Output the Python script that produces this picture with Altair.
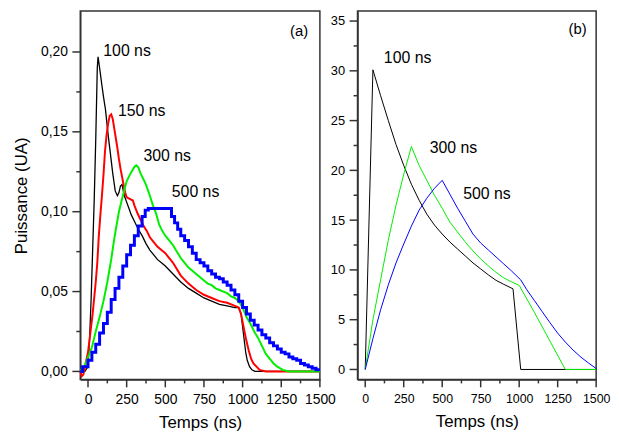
import altair as alt
import pandas as pd

FONT = "Liberation Sans"

# ---------------- Panel (a): measured pulses ----------------
a_black = [(-50, 0), (-20, 0), (0, 0.003), (10, 0.02), (20, 0.045), (30, 0.076), (40, 0.107),
           (50, 0.145), (60, 0.19), (65, 0.197), (75, 0.19), (90, 0.179), (100, 0.172),
           (113, 0.164), (128, 0.15), (144, 0.137), (160, 0.124), (176, 0.113), (190, 0.11),
           (200, 0.112), (210, 0.116), (220, 0.117), (235, 0.11), (250, 0.106), (265, 0.102),
           (280, 0.098), (300, 0.094), (325, 0.089), (350, 0.085), (375, 0.08), (400, 0.076),
           (425, 0.073), (450, 0.07), (475, 0.068), (500, 0.066), (550, 0.061), (600, 0.056),
           (650, 0.052), (700, 0.049), (750, 0.046), (800, 0.044), (850, 0.042), (900, 0.041),
           (950, 0.040), (975, 0.040), (990, 0.036), (1000, 0.028), (1010, 0.02), (1020, 0.012),
           (1030, 0.007), (1045, 0.003), (1060, 0.001), (1080, 0), (1500, 0)]

a_red = [(-50, 0), (-40, -0.003), (-30, -0.002), (-20, 0.003), (0, 0.012), (10, 0.02), (20, 0.028),
         (30, 0.036), (40, 0.046), (50, 0.056), (60, 0.068), (70, 0.085), (80, 0.098), (90, 0.11),
         (100, 0.123), (110, 0.138), (120, 0.148), (130, 0.155), (140, 0.16), (150, 0.161),
         (160, 0.158), (170, 0.152), (180, 0.146), (190, 0.14), (200, 0.133), (210, 0.127),
         (220, 0.122), (230, 0.117), (240, 0.112), (250, 0.109), (270, 0.108), (290, 0.107),
         (300, 0.104), (320, 0.099), (340, 0.095), (360, 0.091), (380, 0.088), (400, 0.084),
         (425, 0.081), (450, 0.078), (475, 0.076), (500, 0.074), (550, 0.068), (600, 0.06),
         (650, 0.055), (700, 0.051), (750, 0.048), (800, 0.046), (850, 0.044), (900, 0.043),
         (950, 0.041), (975, 0.040), (990, 0.036), (1000, 0.031), (1010, 0.026), (1025, 0.019),
         (1040, 0.013), (1055, 0.008), (1070, 0.005), (1090, 0.003), (1110, 0.001), (1150, 0),
         (1500, 0)]

a_green = [(-50, 0), (-20, 0.004), (0, 0.009), (25, 0.015), (50, 0.025), (75, 0.034), (100, 0.044),
           (125, 0.056), (150, 0.070), (165, 0.080), (180, 0.089), (200, 0.100), (225, 0.110),
           (250, 0.119), (275, 0.124), (300, 0.128), (312, 0.129), (325, 0.128), (340, 0.124),
           (355, 0.121), (375, 0.117), (400, 0.110), (420, 0.104), (440, 0.099), (460, 0.092),
           (480, 0.088), (500, 0.085), (525, 0.082), (550, 0.079), (575, 0.075), (600, 0.071),
           (625, 0.068), (650, 0.065), (675, 0.063), (700, 0.061), (725, 0.059), (750, 0.057),
           (775, 0.055), (800, 0.054), (825, 0.052), (850, 0.051), (875, 0.050), (900, 0.049),
           (925, 0.047), (950, 0.046), (975, 0.044), (1000, 0.040), (1025, 0.034), (1050, 0.030),
           (1075, 0.025), (1100, 0.021), (1125, 0.016), (1150, 0.011), (1175, 0.008),
           (1200, 0.005), (1225, 0.003), (1260, 0.001), (1300, 0), (1500, 0)]

a_blue = [(-50, 0), (-35, 0.003), (0, 0.007), (25, 0.012), (50, 0.017), (75, 0.024), (100, 0.030),
          (125, 0.037), (150, 0.045), (175, 0.052), (200, 0.059), (225, 0.066), (250, 0.073),
          (275, 0.079), (300, 0.085), (325, 0.091), (350, 0.097), (370, 0.101), (390, 0.102),
          (450, 0.102), (520, 0.102), (540, 0.097), (560, 0.093), (580, 0.089), (600, 0.085),
          (625, 0.082), (650, 0.078), (675, 0.074), (700, 0.070), (725, 0.068), (750, 0.066),
          (775, 0.063), (800, 0.061), (825, 0.059), (850, 0.058), (875, 0.056), (900, 0.054),
          (925, 0.051), (950, 0.048), (975, 0.044), (1000, 0.040), (1025, 0.036), (1050, 0.032),
          (1075, 0.029), (1100, 0.026), (1125, 0.023), (1150, 0.021), (1175, 0.018),
          (1200, 0.016), (1225, 0.014), (1250, 0.012), (1275, 0.011), (1300, 0.009),
          (1325, 0.008), (1350, 0.007), (1375, 0.005), (1400, 0.004), (1425, 0.003),
          (1450, 0.002), (1475, 0.001), (1500, 0.001)]

a_labels = ["100 ns", "150 ns", "300 ns", "500 ns"]
a_label_x = [99, 194, 359, 542]
a_label_y = [0.2007, 0.163, 0.135, 0.112]

# ---------------- Panel (b): simulated pulses ----------------
b_black_t = [0, 50, 100, 150, 200, 250, 300, 350, 400, 450, 500, 550, 600, 650, 700, 750,
             800, 850, 900, 960, 1010, 1500]
b_black_v = [0, 30.1, 27.5, 25.0, 22.6, 20.5, 18.6, 17.0, 15.6, 14.5, 13.6, 12.8, 12.1, 11.4,
             10.7, 10.1, 9.5, 8.95, 8.55, 8.1, 0, 0]

b_green_t = [0, 50, 100, 150, 200, 250, 300, 350, 400, 450, 500, 550, 600, 650, 700, 750, 800,
             850, 900, 950, 1000, 1100, 1200, 1300, 1500]
b_green_v = [0, 5.0, 9.0, 13.0, 16.5, 19.6, 22.4, 20.5, 19.0, 17.5, 16.2, 14.8, 13.8, 12.8,
             11.9, 11.1, 10.4, 9.75, 9.2, 8.8, 8.45, 5.7, 2.85, 0, 0]

b_blue_t = [0, 50, 100, 150, 200, 250, 300, 350, 400, 450, 500, 550, 600, 650, 700, 750, 800,
            850, 900, 950, 1010, 1050, 1100, 1150, 1200, 1250, 1300, 1350, 1400, 1450, 1500]
b_blue_v = [0, 3.1, 6.0, 8.5, 10.7, 12.6, 14.4, 16.0, 17.2, 18.2, 19.0, 17.6, 16.2, 14.9, 13.6,
            12.7, 12.0, 11.3, 10.6, 9.9, 9.0, 8.0, 6.9, 5.8, 4.7, 3.65, 2.75, 1.95, 1.25, 0.65, 0.1]

b_labels = ["100 ns", "300 ns", "500 ns"]
b_label_x = [121, 419, 636]
b_label_y = [31.3, 22.25, 17.6]

# ---------------- tick values ----------------
x_major = [0, 250, 500, 750, 1000, 1250, 1500]
x_minor = [125, 375, 625, 875, 1125, 1375]
ya_major = [0.0, 0.05, 0.10, 0.15, 0.20]
ya_minor = [0.025, 0.075, 0.125, 0.175]
yb_major = [0, 5, 10, 15, 20, 25, 30, 35]
yb_minor = [2.5, 7.5, 12.5, 17.5, 22.5, 27.5, 32.5]

x_scale = alt.Scale(domain=[-50, 1500], nice=False, zero=False)
ya_scale = alt.Scale(domain=[-0.005, 0.2256], nice=False, zero=False)
yb_scale = alt.Scale(domain=[-1, 36], nice=False, zero=False)

TICK = "#333333"
H = 372
WA = 242
WB = 241
MAJ = 8
MIN = 4


def x_axis(size):
    return alt.Axis(title="Temps (ns)", values=x_major, orient="bottom", grid=False, ticks=False,
                    labelExpr="format(datum.value, 'd')", labelFontSize=size,
                    titleFontSize=17, titleFontWeight="normal", labelPadding=MAJ + 5,
                    titlePadding=9, labelFlush=False, labelOverlap=False)


ya_axis = alt.Axis(title="Puissance (UA)", values=ya_major, orient="left", grid=False, ticks=False,
                   labelExpr="replace(format(datum.value, '.2f'), '.', ',')",
                   labelFontSize=14, titleFontSize=17, titleFontWeight="normal",
                   labelPadding=MAJ + 5, titlePadding=10, labelFlush=False, labelOverlap=False)
yb_axis = alt.Axis(title=None, values=yb_major, orient="left", grid=False, ticks=False,
                   labelExpr="format(datum.value, 'd')", labelFontSize=13,
                   labelPadding=MAJ + 5, labelFlush=False, labelOverlap=False)


def line(df, color, width, ysc, yax=None, xax=None, interp="linear"):
    return alt.Chart(df).mark_line(color=color, strokeWidth=width, interpolate=interp).encode(
        x=alt.X("t:Q", scale=x_scale, axis=xax),
        y=alt.Y("v:Q", scale=ysc, axis=yax),
    )


def texts(df, ysc, align="left", size=16):
    return alt.Chart(df).mark_text(align=align, baseline="middle", fontSize=size, font=FONT,
                                   color="black").encode(
        x=alt.X("t:Q", scale=x_scale),
        y=alt.Y("v:Q", scale=ysc),
        text="label:N",
    )


def xticks(vals, length, h):
    # short vertical tick marks hanging below the plot (tick position is its centre)
    return alt.Chart(pd.DataFrame({"t": vals})).mark_tick(
        color=TICK, thickness=1.5, size=length, orient="vertical", opacity=1
    ).encode(
        x=alt.X("t:Q", scale=x_scale),
        y=alt.value(h + length / 2),
    )


def yticks(vals, length, ysc):
    # short horizontal tick marks sticking out left of the plot (centre position)
    return alt.Chart(pd.DataFrame({"v": vals})).mark_tick(
        color=TICK, thickness=1.5, size=length, orient="horizontal", opacity=1
    ).encode(
        y=alt.Y("v:Q", scale=ysc),
        x=alt.value(-length / 2),
    )


def pairs_df(p):
    return pd.DataFrame({"t": [a for a, _ in p], "v": [b for _, b in p]})


left = alt.layer(
    line(pairs_df(a_black), "#000000", 1.3, ya_scale, ya_axis, x_axis(14)),
    line(pairs_df(a_red), "#ff0000", 2.0, ya_scale, ya_axis, x_axis(14)),
    line(pairs_df(a_green), "#00ee00", 2.0, ya_scale, ya_axis, x_axis(14)),
    line(pairs_df(a_blue), "#0000ff", 3.0, ya_scale, ya_axis, x_axis(14), interp="step-after"),
    xticks(x_major, MAJ, H), xticks(x_minor, MIN, H),
    yticks(ya_major, MAJ, ya_scale), yticks(ya_minor, MIN, ya_scale),
    texts(pd.DataFrame({"t": a_label_x, "v": a_label_y, "label": a_labels}), ya_scale),
    texts(pd.DataFrame({"t": [1365], "v": [0.213], "label": ["(a)"]}), ya_scale, align="center",
          size=15),
).properties(width=WA, height=H)

right = alt.layer(
    line(pd.DataFrame({"t": b_black_t, "v": b_black_v}), "#000000", 1.0, yb_scale, yb_axis, x_axis(12.5)),
    line(pd.DataFrame({"t": b_green_t, "v": b_green_v}), "#00ee00", 1.0, yb_scale, yb_axis, x_axis(12.5)),
    line(pd.DataFrame({"t": b_blue_t, "v": b_blue_v}), "#0000ff", 1.0, yb_scale, yb_axis, x_axis(12.5)),
    xticks(x_major, MAJ, H), xticks(x_minor, MIN, H),
    yticks(yb_major, MAJ, yb_scale), yticks(yb_minor, MIN, yb_scale),
    texts(pd.DataFrame({"t": b_label_x, "v": b_label_y, "label": b_labels}), yb_scale),
    texts(pd.DataFrame({"t": [1379], "v": [34.2], "label": ["(b)"]}), yb_scale, align="center",
          size=15),
).properties(width=WB, height=H)

chart = alt.hconcat(left, right, spacing=-8,
                    padding={"left": 4, "top": 0, "right": 0, "bottom": 0}).configure_view(
    stroke="#333333", strokeWidth=1.5
).configure_axis(
    domainColor="#333333", domainWidth=1.5,
    labelColor="black", titleColor="black", labelFont=FONT, titleFont=FONT,
    titleFontWeight="normal",
)

chart.save("out.html", embed_options={"renderer": "svg", "actions": False})
